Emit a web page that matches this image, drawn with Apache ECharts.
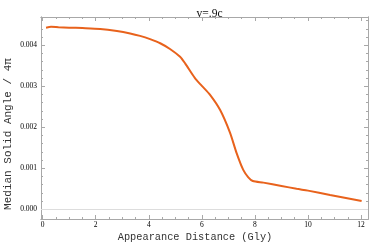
<!DOCTYPE html>
<html><head><meta charset="utf-8">
<script src="https://cdn.jsdelivr.net/npm/echarts@6/dist/echarts.min.js"></script>
<style>html,body{margin:0;padding:0;background:#fff}#c{width:374px;height:248px}</style>
</head><body><div id="c"></div>
<script>
const distance = [0.13, 0.32, 0.6, 1.0, 1.5, 2.17, 2.8, 3.3, 3.67, 4.05, 4.43, 4.8, 5.18, 5.37, 5.74, 6.0, 6.31, 6.69, 7.06, 7.31, 7.56, 7.75, 7.92, 8.32, 9.0, 9.57, 10.0, 10.83, 12.02];
const solidAngle = [0.00443, 0.00445, 0.00444, 0.00443, 0.00442, 0.00440, 0.00435, 0.00429, 0.00423, 0.00415, 0.00405, 0.00391, 0.00372, 0.00356, 0.00320, 0.00301, 0.00279, 0.00242, 0.00187, 0.00137, 0.00096, 0.00078, 0.00069, 0.00065, 0.00057, 0.00050, 0.000455, 0.00035, 0.00020];
const xTicks = [0, 2, 4, 6, 8, 10, 12];
const xMinorTicks = [0.5, 1, 1.5, 2.5, 3, 3.5, 4.5, 5, 5.5, 6.5, 7, 7.5, 8.5, 9, 9.5, 10.5, 11, 11.5];
const yTicks = [0, 0.001, 0.002, 0.003, 0.004];
const yMinorTicks = [0.0002, 0.0004, 0.0006, 0.0008, 0.0012, 0.0014, 0.0016, 0.0018, 0.0022, 0.0024, 0.0026, 0.0028, 0.0032, 0.0034, 0.0036, 0.0038, 0.0042, 0.0044, 0.0046];
const title = 'v=.9c';
const xTitle = 'Appearance Distance (Gly)';
const yTitle = 'Median Solid Angle / 4π';

const XMIN = -0.06, XMAX = 12.26, YMIN = -0.000237, YMAX = 0.00469;
const frameColor = '#a8a8a8';
const tickFont = {fontFamily: 'Liberation Serif', fontSize: 7.5, color: '#000'};

function xAxisDef(pos, ticks, len, labels) {
  return {
    type: 'value', min: XMIN, max: XMAX, position: pos,
    axisLine: {show: true, onZero: false, lineStyle: {color: frameColor, width: 1}},
    axisTick: {show: true, inside: true, length: len, customValues: ticks, lineStyle: {color: frameColor}},
    axisLabel: labels ? Object.assign({show: true, margin: 2, customValues: ticks, formatter: v => String(v)}, tickFont) : {show: false},
    splitLine: {show: false}
  };
}
function yAxisDef(pos, ticks, len, labels) {
  return {
    type: 'value', min: YMIN, max: YMAX, position: pos,
    axisLine: {show: true, onZero: false, lineStyle: {color: frameColor, width: 1}},
    axisTick: {show: true, inside: true, length: len, customValues: ticks, lineStyle: {color: frameColor}},
    axisLabel: labels ? Object.assign({show: true, margin: 4, customValues: ticks, formatter: v => v.toFixed(3)}, tickFont) : {show: false},
    splitLine: {show: false}
  };
}

const chart = echarts.init(document.getElementById('c'), null, {renderer: 'canvas'});
chart.setOption({
  animation: false,
  grid: {left: 41, top: 17, right: 6, bottom: 29, containLabel: false},
  title: {text: title, left: 204.5, textAlign: 'center', top: 3,
    textStyle: {fontFamily: 'Liberation Serif', fontSize: 11.5, fontWeight: 'normal', color: '#111'}},
  xAxis: [
    xAxisDef('bottom', xTicks, 4, true),
    xAxisDef('bottom', xMinorTicks, 2, false),
    xAxisDef('top', xTicks, 4, false),
    xAxisDef('top', xMinorTicks, 2, false)
  ],
  yAxis: [
    yAxisDef('left', yTicks, 4, true),
    yAxisDef('left', yMinorTicks, 2, false),
    yAxisDef('right', yTicks, 4, false),
    yAxisDef('right', yMinorTicks, 2, false)
  ],
  graphic: [
    {type: 'text', x: 195, y: 237, style: {text: xTitle, font: '10.3px "Liberation Mono"', fill: '#333', align: 'center', verticalAlign: 'middle'}},
    {type: 'text', x: 8.5, y: 134, rotation: Math.PI / 2, style: {text: yTitle, font: '11px "Liberation Mono"', fill: '#333', align: 'center', verticalAlign: 'middle'}}
  ],
  series: [{
    type: 'line', xAxisIndex: 0, yAxisIndex: 0,
    data: distance.map((d, i) => [d, solidAngle[i]]),
    showSymbol: false, smooth: 0.25,
    lineStyle: {color: '#e8621c', width: 2},
    markLine: {silent: true, symbol: 'none', label: {show: false},
      lineStyle: {color: '#dddddd', width: 1, type: 'solid'},
      data: [{yAxis: 0}]}
  }]
});
</script></body></html>
